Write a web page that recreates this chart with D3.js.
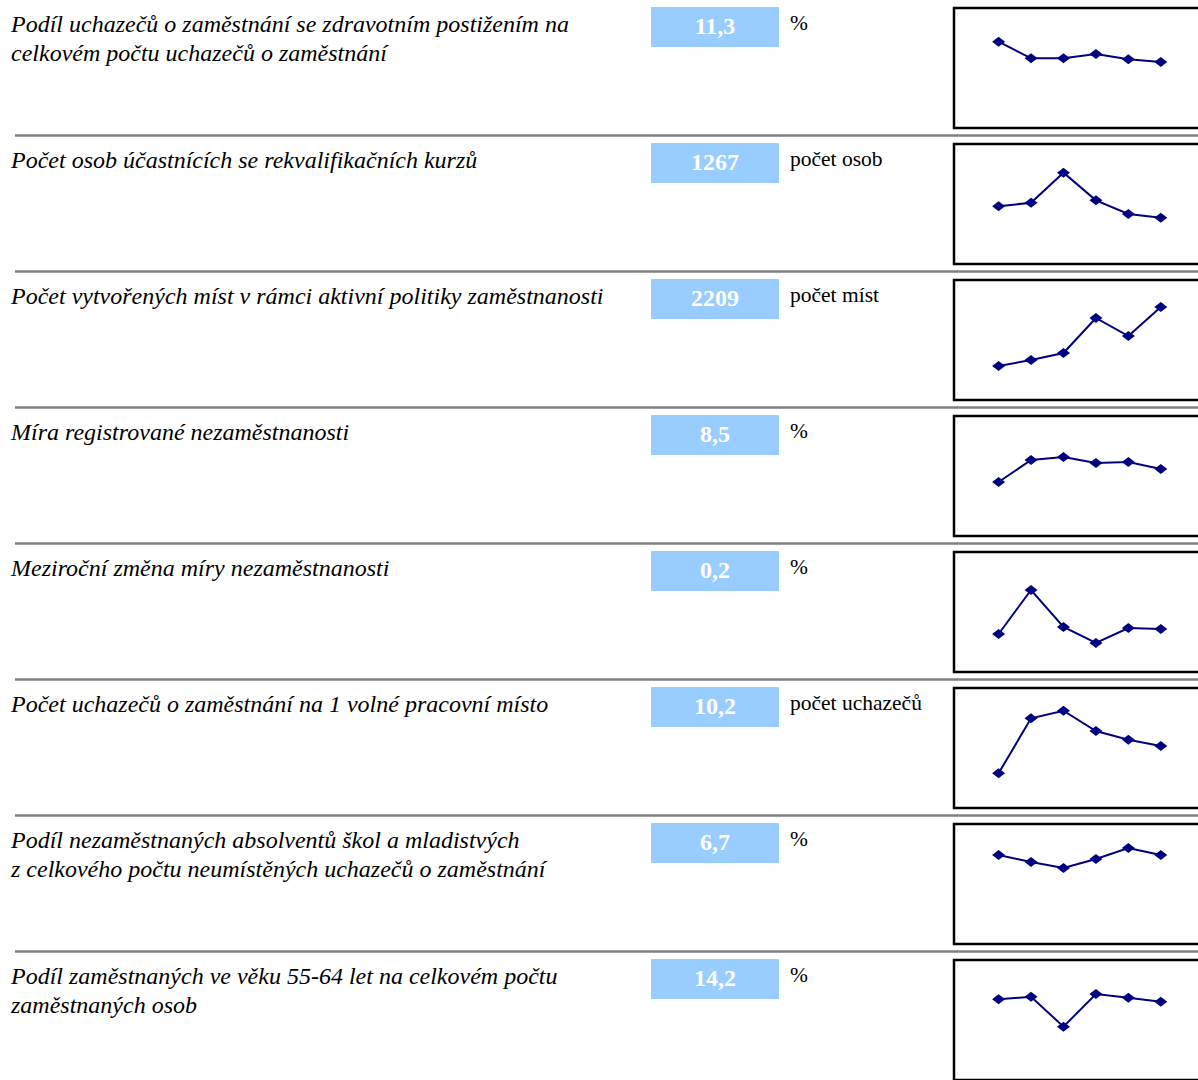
<!DOCTYPE html>
<html><head><meta charset="utf-8">
<script src="https://cdn.jsdelivr.net/npm/d3@7"></script>
<style>html,body{margin:0;padding:0;background:#fff;overflow:hidden}</style>
</head><body><svg id="c" width="1198" height="1080"></svg>
<script>
const labels = [
  ["Podíl uchazečů o zaměstnání se zdravotním postižením na", "celkovém počtu uchazečů o zaměstnání"],
  ["Počet osob účastnících se rekvalifikačních kurzů"],
  ["Počet vytvořených míst v rámci aktivní politiky zaměstnanosti"],
  ["Míra registrované nezaměstnanosti"],
  ["Meziroční změna míry nezaměstnanosti"],
  ["Počet uchazečů o zaměstnání na 1 volné pracovní místo"],
  ["Podíl nezaměstnaných absolventů škol a mladistvých", "z celkového počtu neumístěných uchazečů o zaměstnání"],
  ["Podíl zaměstnaných ve věku 55-64 let na celkovém počtu", "zaměstnaných osob"]
];
const values = ["11,3", "1267", "2209", "8,5", "0,2", "10,2", "6,7", "14,2"];
const units = ["%", "počet osob", "počet míst", "%", "%", "počet uchazečů", "%", "%"];
const periods = ["1", "2", "3", "4", "5", "6"];
// sparkline values (relative level within each small chart, 0 = bottom, 120 = top)
const spark1 = [86.3, 69.7, 69.7, 74, 68.7, 66];
const spark2 = [57.7, 61.3, 91.3, 63.7, 50, 46.3];
const spark3 = [34, 40, 47, 82, 64, 93];
const spark4 = [54, 76, 79, 73, 74, 67];
const spark5 = [38, 82, 45, 29, 44, 43];
const spark6 = [34.7, 89.7, 97.3, 77, 68.3, 62];
const spark7 = [89, 82, 76, 85, 96, 89];
const spark8 = [80.7, 83.3, 53.3, 86, 82.3, 78.3];
const sparks = [spark1, spark2, spark3, spark4, spark5, spark6, spark7, spark8];

const svg = d3.select("#c");
const rowH = 136;
const serif = "'Liberation Serif', 'Times New Roman', serif";
const x = d3.scalePoint().domain(periods).range([998.6, 1160.8]);

labels.forEach((lab, i) => {
  const g = svg.append("g").attr("transform", `translate(0,${i * rowH})`);
  lab.forEach((ln, j) => {
    g.append("text").attr("x", 11).attr("y", 32 + j * 28.5)
      .attr("font-family", serif)
      .attr("font-style", "italic").attr("font-size", 24).attr("fill", "#000").text(ln);
  });
  g.append("rect").attr("x", 651).attr("y", 7).attr("width", 128).attr("height", 40).attr("fill", "#99ccff");
  g.append("text").attr("x", 715).attr("y", 33.5).attr("text-anchor", "middle")
    .attr("font-family", serif)
    .attr("font-weight", "bold").attr("font-size", 24).attr("fill", "#fff").text(values[i]);
  g.append("text").attr("x", 790).attr("y", 30)
    .attr("font-family", serif)
    .attr("font-size", 21.5).attr("fill", "#000").text(units[i]);
  // sparkline box
  const top = 8, bot = 128;
  g.append("rect").attr("x", 954).attr("y", top).attr("width", 260).attr("height", bot - top)
    .attr("fill", "#fff").attr("stroke", "#000").attr("stroke-width", 2.5);
  const y = d3.scaleLinear().domain([0, 120]).range([bot, top]);
  const data = sparks[i];
  g.append("path").datum(data)
    .attr("d", d3.line().x((d, k) => x(periods[k])).y(d => y(d)))
    .attr("fill", "none").attr("stroke", "#000080").attr("stroke-width", 2);
  g.selectAll("path.m").data(data).enter().append("path").attr("class", "m")
    .attr("d", "M0,-5L6.5,0L0,5L-6.5,0Z")
    .attr("transform", (d, k) => `translate(${x(periods[k])},${y(d)})`)
    .attr("fill", "#000080");
  if (i < labels.length - 1) {
    g.append("line").attr("x1", 15).attr("x2", 1198).attr("y1", 135.5).attr("y2", 135.5)
      .attr("stroke", "#808080").attr("stroke-width", 2.5);
  }
});
</script></body></html>
